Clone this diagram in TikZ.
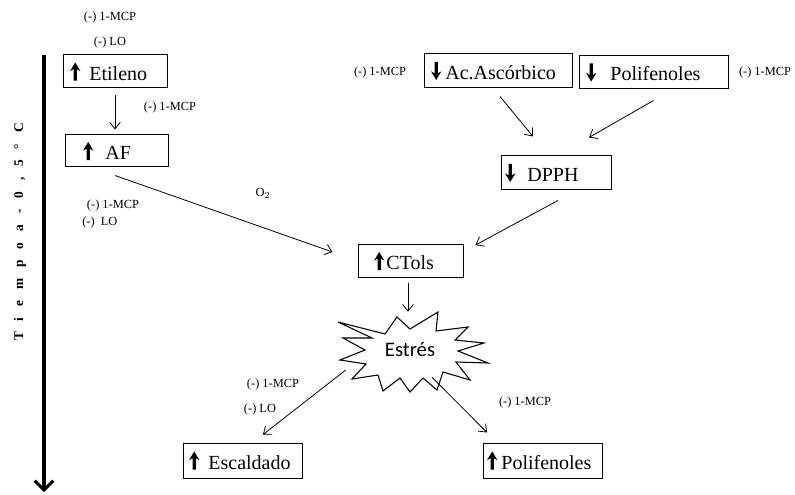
\documentclass[tikz,border=0pt]{standalone}
\usepackage{fontspec}
\setmainfont{Liberation Serif}
\newfontfamily\calib{Carlito}
\usetikzlibrary{arrows.meta,calc}
\newcommand\myup{\tikz[x=1pt,y=1pt,baseline=0pt]\fill (0,13.2)--(3.9,6.6)--(1.2,8.2)--(1.2,-0.4)--(-1.2,-0.4)--(-1.2,8.2)--(-3.9,6.6)--cycle;}
\newcommand\mydn{\tikz[x=1pt,y=1pt,baseline=0pt]\fill (0,-0.6)--(3.9,6.0)--(1.2,4.4)--(1.2,13)--(-1.2,13)--(-1.2,4.4)--(-3.9,6.0)--cycle;}
\begin{document}
\begin{tikzpicture}[x=0.75pt,y=-0.75pt,
  box/.style 2 args={draw, line width=0.75pt, inner xsep=0pt, inner ysep=0pt,
    text width=#1*0.75pt, align=left, minimum height=#2*0.75pt,
    font=\fontsize{15}{18}\selectfont},
  lbl/.style={inner sep=0pt, font=\fontsize{9.3}{11}\selectfont},
  conn/.style={-{Straight Barb[length=5pt,width=8pt]}, line width=0.6pt},
  axis/.style={line width=2.3pt, -{Straight Barb[length=7pt,width=14pt,line width=2.2pt]}}]
\useasboundingbox (0,0) rectangle (795,495);

% time axis
\coordinate (axtop) at (44,55);
\coordinate (axbot) at (44,492);
\draw[axis] (axtop) -- (axbot);
\node[rotate=90, inner sep=0pt, font=\bfseries\fontsize{10}{12}\selectfont] (tiempo) at (20,232)
  {\spaceskip=8.2pt T i e m p o a - 0 , 5 ° C};

% boxes
\node[box={104}{33}] (Et) at (115,71.5) {\hspace*{5.25pt}\myup\hspace{6.75pt}Etileno};
\node[box={103}{32}] (AF) at (116.5,151) {\hspace*{13.5pt}\myup\hspace{9pt}AF};
\node[box={148}{34}] (Ac) at (498,71) {\hspace*{5.25pt}\mydn\hspace{3pt}Ac.Ascórbico};
\node[box={149}{33}] (PolT) at (653.5,72.5) {\hspace*{5.25pt}\mydn\hspace{10.5pt}Polifenoles};
\node[box={110}{34}] (DPPH) at (556,173) {\hspace*{3pt}\mydn\hspace{9pt}DPPH};
\node[box={105}{33}] (CT) at (410.5,261) {\hspace*{12pt}\myup\hspace{1.5pt}CTols};
\node[box={119}{35}] (Esc) at (242.5,460.5) {\hspace*{4.5pt}\myup\hspace{6.75pt}Escaldado};
\node[box={119}{35}] (PolB) at (542.5,460.5) {\hspace*{3pt}\myup\hspace{3pt}Polifenoles};

% starburst
\draw[line width=0.8pt, line join=miter]
  (338,322) -- (385,334) -- (397,317) -- (410,329) -- (438,312) -- (436,331)
  -- (468,327) -- (455,340) -- (484,343) -- (458,351) -- (488,363) -- (456,362)
  -- (470,380) -- (443,372) -- (437,390) -- (423,378) -- (410,392) -- (400,378)
  -- (383,391) -- (378,375) -- (352,379) -- (366,364) -- (340,360) -- (365,350)
  -- (343,338) -- (372,338) -- cycle;
\node[inner sep=0pt, minimum width=150*0.75pt, minimum height=70*0.75pt,
  font=\calib\fontsize{15.5}{18}\selectfont] (est) at (410,350) {Estrés};

% labels
\node[lbl] (l1) at (110,18) {(-) 1-MCP};
\node[lbl] (l2) at (110,43) {(-) LO};
\node[lbl] (l3) at (170,108) {(-) 1-MCP};
\node[lbl] (o2) at (263,193) {O$_2$};
\node[lbl] (l4) at (113,206) {(-) 1-MCP};
\node[lbl, anchor=west] (l5) at (82,223) {(-)\ \ LO};
\node[lbl] (l6) at (380,73) {(-) 1-MCP};
\node[lbl] (l7) at (765,73) {(-) 1-MCP};
\node[lbl] (l8) at (273,385) {(-) 1-MCP};
\node[lbl] (l9) at (260,410) {(-) LO};
\node[lbl] (l10) at (525,403) {(-) 1-MCP};

% connectors
\draw[conn] ($(Et.south)+(0,7)$) -- ($(AF.north)+(-1.5,-5)$);
\draw[conn] ($(AF.south)+(-1.5,8)$) -- ($(CT.west)+(-25,-9)$);
\draw[conn] ($(Ac.south)+(2,8)$) -- ($(DPPH.north)+(-23,-19)$);
\draw[conn] ($(PolT.south)+(0,11)$) -- ($(DPPH.north)+(33,-18)$);
\draw[conn] ($(DPPH.south)+(2,10)$) -- ($(CT.east)+(12,-16)$);
\draw[conn] ($(CT.south)+(-2.5,4.5)$) -- ($(est.north)+(-2,-3)$);
\draw[conn] ($(est.west)+(11,20)$) -- ($(Esc.north)+(20.5,-8)$);
\draw[conn] ($(est.south)+(22,-8)$) -- ($(PolB.north)+(-55.5,-10)$);
\end{tikzpicture}
\end{document}
